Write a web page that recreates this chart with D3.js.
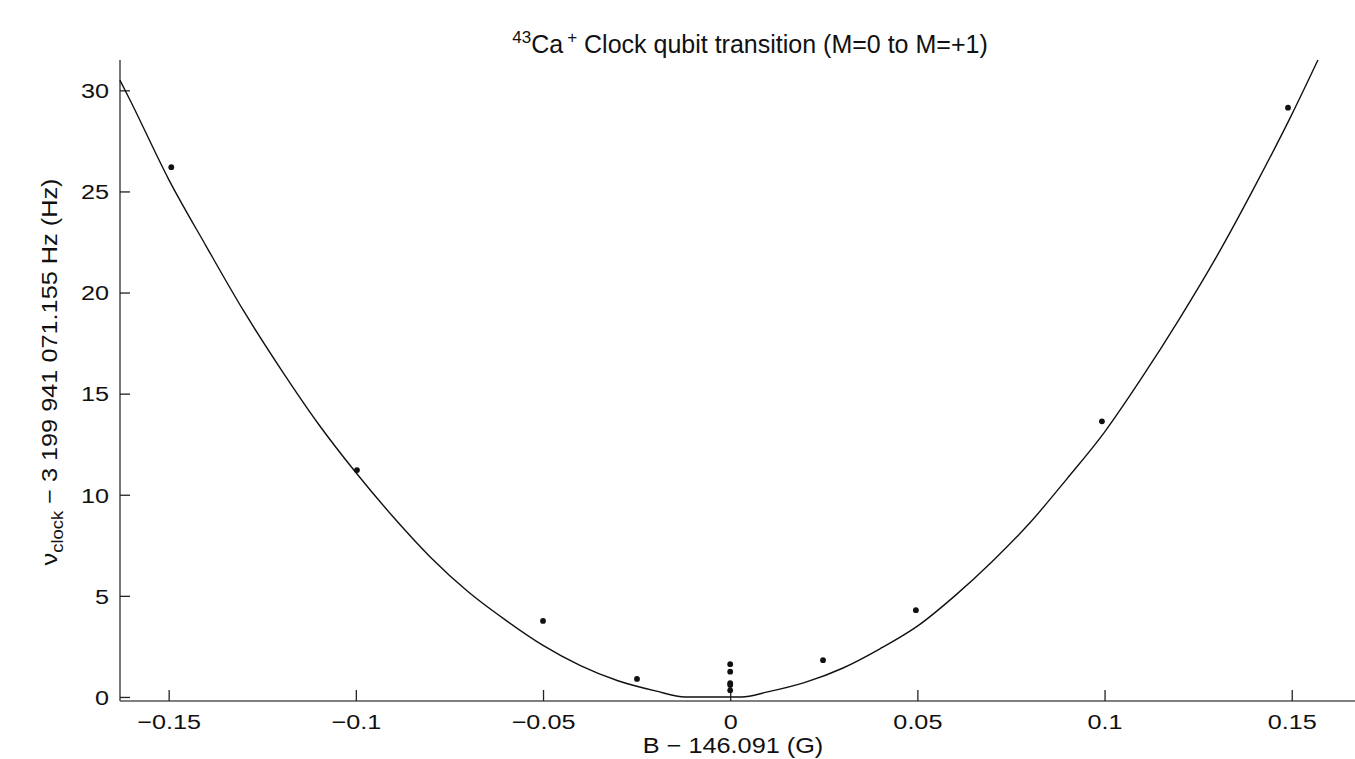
<!DOCTYPE html>
<html>
<head>
<meta charset="utf-8">
<script src="https://cdn.jsdelivr.net/npm/d3@7"></script>
<style>
  html, body { margin: 0; padding: 0; background: #fff; }
  svg { display: block; font-family: "Liberation Sans", Arial, Helvetica, sans-serif; }
</style>
</head>
<body>
<svg id="chart" width="1355" height="759"></svg>
<script>
// Measured points: B - 146.091 (G) and frequency offset (Hz)
const pointB = [-0.1493, -0.0997, -0.05, -0.0249, 0, 0, 0, 0, 0, 0.0248, 0.0496, 0.0993, 0.149];
const pointNu = [26.2, 11.22, 3.76, 0.89, 1.62, 1.25, 0.68, 0.59, 0.33, 1.82, 4.29, 13.63, 29.14];

// Fitted curve
const curveB = [-0.163, -0.16, -0.15, -0.14, -0.13, -0.12, -0.11, -0.1, -0.09, -0.08, -0.07, -0.06, -0.05, -0.04, -0.03, -0.02, -0.012, 0.003, 0.01, 0.02, 0.03, 0.04, 0.05, 0.06, 0.07, 0.08, 0.09, 0.1, 0.11, 0.12, 0.13, 0.14, 0.15, 0.157];
const curveNu = [30.5, 29.4, 25.6, 22.3, 19.1, 16.2, 13.5, 11.1, 8.9, 6.9, 5.2, 3.8, 2.55, 1.55, 0.8, 0.3, 0.0, 0.0, 0.25, 0.72, 1.42, 2.38, 3.5, 5.0, 6.7, 8.6, 10.8, 13.1, 15.8, 18.7, 21.8, 25.2, 28.8, 31.5];

const xTicks = [-0.15, -0.1, -0.05, 0, 0.05, 0.1, 0.15];
const xTickLabels = ["\u22120.15", "\u22120.1", "\u22120.05", "0", "0.05", "0.1", "0.15"];
const yTicks = [0, 5, 10, 15, 20, 25, 30];

const svg = d3.select("#chart");
const mLeft = 120, mRight = 1355, mTop = 60, mBottom = 701;

const x = d3.scaleLinear().domain([-0.163, 0.1669]).range([mLeft, mRight]);
const y = d3.scaleLinear().domain([-0.2, 31.5]).range([mBottom, mTop]);

const axisColor = "#555";
const stretch = 1.2;

// Axes lines
svg.append("line").attr("x1", mLeft).attr("x2", mRight).attr("y1", mBottom).attr("y2", mBottom)
  .attr("stroke", axisColor).attr("stroke-width", 1.6);
svg.append("line").attr("x1", mLeft).attr("x2", mLeft).attr("y1", mTop).attr("y2", mBottom)
  .attr("stroke", axisColor).attr("stroke-width", 1.6);

// X axis ticks (inward) and labels
const xAxis = d3.axisBottom(x).tickValues(xTicks).tickSizeInner(-11).tickSizeOuter(0)
  .tickFormat((d, i) => xTickLabels[i]);
const gx = svg.append("g").attr("transform", `translate(0,${mBottom})`).call(xAxis);
gx.select(".domain").remove();
gx.selectAll(".tick line").attr("stroke", "#222").attr("stroke-width", 1.3);
gx.selectAll(".tick text").attr("fill", "#111").style("font-size", "21px")
  .attr("y", 28).attr("dy", 0).attr("transform", `scale(${stretch},1)`);

// Y axis ticks (inward) and labels
const yAxis = d3.axisLeft(y).tickValues(yTicks).tickSizeInner(-10).tickSizeOuter(0)
  .tickFormat(d3.format("d"));
const gy = svg.append("g").attr("transform", `translate(${mLeft},0)`).call(yAxis);
gy.select(".domain").remove();
gy.selectAll(".tick line").attr("stroke", "#222").attr("stroke-width", 1.3);
gy.selectAll(".tick text").attr("fill", "#111").style("font-size", "21px")
  .attr("x", -11 / stretch).attr("dy", "0.35em").attr("transform", `scale(${stretch},1)`);

// Curve
const line = d3.line().x(d => x(d[0])).y(d => y(d[1])).curve(d3.curveMonotoneX);
svg.append("path").datum(curveB.map((b, i) => [b, curveNu[i]]))
  .attr("d", line).attr("fill", "none").attr("stroke", "#111").attr("stroke-width", 1.4);

// Points
svg.append("g").selectAll("circle").data(pointB.map((b, i) => [b, pointNu[i]]))
  .join("circle").attr("cx", d => x(d[0])).attr("cy", d => y(d[1])).attr("r", 2.9)
  .attr("fill", "#111");

// Title
const title = svg.append("text").attr("x", 750).attr("y", 53).attr("text-anchor", "middle")
  .style("font-size", "25px").attr("fill", "#111");
title.append("tspan").text("43").attr("dy", -10).style("font-size", "17px");
title.append("tspan").text("Ca").attr("dy", 10);
title.append("tspan").text("+").attr("dy", -10).style("font-size", "17px").attr("dx", 4);
title.append("tspan").text(" Clock qubit transition (M=0 to M=+1)").attr("dy", 10);

// X label
svg.append("text").attr("transform", "translate(733,753) scale(1.15,1)").attr("text-anchor", "middle")
  .style("font-size", "22px").attr("fill", "#111").text("B \u2212 146.091 (G)");

// Y label
const yl = svg.append("text").attr("transform", "translate(57,372) rotate(-90) scale(1.15,1)")
  .attr("text-anchor", "middle").style("font-size", "22px").attr("fill", "#111");
yl.append("tspan").text("\u03bd");
yl.append("tspan").text("clock").attr("dy", 6).style("font-size", "16px");
yl.append("tspan").text(" \u2212 3 199 941 071.155 Hz (Hz)").attr("dy", -6);
</script>
</body>
</html>
